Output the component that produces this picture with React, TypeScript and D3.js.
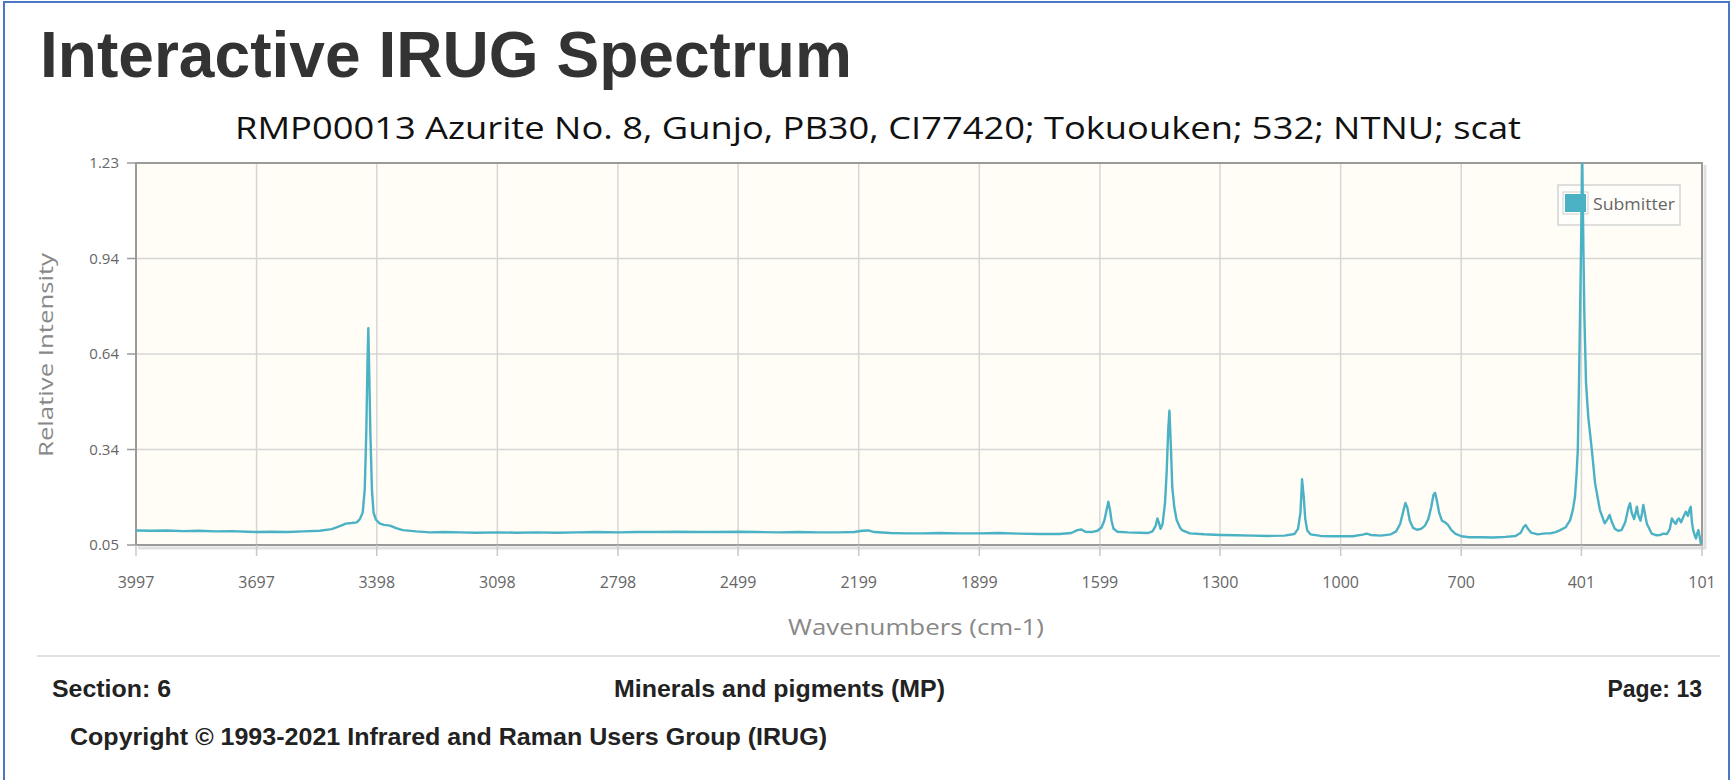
import React from 'react'
import * as d3 from 'd3'

// Raman spectrum, values
const xTicks = [3997, 3697, 3398, 3098, 2798, 2499, 2199, 1899, 1599, 1300, 1000, 700, 401, 101]
const yTicks = [0.05, 0.345, 0.64, 0.935, 1.23]
const yTickLabels = ['0.05', '0.34', '0.64', '0.94', '1.23']

const wavenumbers = [
  3997, 3960, 3920, 3880, 3840, 3800, 3760, 3720, 3697, 3660, 3620, 3580, 3540, 3510, 3490, 3475, 3460, 3448,
  3440, 3433, 3428, 3424, 3421, 3419, 3417, 3414, 3410, 3406, 3400, 3390, 3380, 3365, 3350, 3333, 3300, 3266,
  3230, 3190, 3150, 3098, 3050, 3000, 2950, 2900, 2850, 2798, 2750, 2700, 2650, 2600, 2550, 2499, 2450, 2400,
  2350, 2300, 2250, 2210, 2190, 2175, 2160, 2120, 2080, 2040, 2000, 1950, 1899, 1850, 1800, 1750, 1700, 1670,
  1655, 1645, 1635, 1620, 1605, 1595, 1588, 1582, 1578, 1574, 1570, 1565, 1555, 1530, 1500, 1480, 1468, 1460,
  1456, 1452, 1448, 1443, 1437, 1433, 1429, 1426, 1422, 1419, 1414, 1408, 1400, 1395, 1375, 1340, 1300, 1260,
  1220, 1180, 1140, 1115, 1106, 1100, 1096, 1092, 1088, 1083, 1075, 1050, 1020, 1000, 970, 945, 935, 925,
  900, 875, 862, 852, 845, 839, 834, 828, 820, 810, 800, 790, 782, 775, 769, 765, 761, 755,
  748, 740, 733, 725, 715, 700, 680, 650, 620, 590, 565, 552, 545, 540, 534, 526, 510, 490,
  479, 465, 454, 440, 429, 422, 417, 413, 410, 407, 404.5, 402, 399, 396, 393.6, 389.5, 384, 375,
  367, 355, 343, 336, 331, 325, 318, 310, 301, 292, 284, 280, 276, 270, 266, 263, 259, 254,
  250, 247, 242, 238, 232, 226, 214, 205, 197, 188, 181, 176, 170, 166, 162, 158, 153, 147,
  141, 136, 132, 129, 126, 123, 119, 116, 113, 110, 106, 104, 101,
]
const intensities = [
  0.095, 0.094, 0.095, 0.093, 0.094, 0.092, 0.093, 0.091, 0.090, 0.091, 0.090, 0.092, 0.094, 0.099, 0.108, 0.116, 0.118, 0.120,
  0.130, 0.150, 0.220, 0.400, 0.620, 0.720, 0.600, 0.400, 0.220, 0.150, 0.128, 0.116, 0.112, 0.110, 0.102, 0.096, 0.092, 0.089,
  0.090, 0.089, 0.088, 0.089, 0.088, 0.089, 0.088, 0.089, 0.090, 0.089, 0.090, 0.090, 0.091, 0.090, 0.090, 0.091, 0.090, 0.089,
  0.090, 0.089, 0.089, 0.090, 0.094, 0.095, 0.090, 0.087, 0.086, 0.086, 0.087, 0.086, 0.086, 0.087, 0.085, 0.084, 0.084, 0.087,
  0.096, 0.098, 0.091, 0.090, 0.094, 0.104, 0.125, 0.160, 0.184, 0.160, 0.125, 0.100, 0.091, 0.089, 0.088, 0.087, 0.092, 0.110,
  0.132, 0.118, 0.100, 0.115, 0.179, 0.271, 0.405, 0.465, 0.343, 0.230, 0.168, 0.127, 0.105, 0.096, 0.086, 0.083, 0.081, 0.080,
  0.079, 0.078, 0.079, 0.084, 0.100, 0.150, 0.253, 0.200, 0.130, 0.095, 0.083, 0.078, 0.077, 0.077, 0.077, 0.082, 0.085, 0.081,
  0.079, 0.083, 0.092, 0.115, 0.150, 0.180, 0.165, 0.125, 0.103, 0.097, 0.100, 0.110, 0.130, 0.165, 0.205, 0.211, 0.190, 0.150,
  0.125, 0.120, 0.112, 0.097, 0.085, 0.077, 0.074, 0.074, 0.073, 0.075, 0.078, 0.088, 0.105, 0.112, 0.100, 0.088, 0.083, 0.086,
  0.086, 0.090, 0.096, 0.105, 0.127, 0.160, 0.199, 0.270, 0.343, 0.550, 0.755, 0.961, 1.260, 0.961, 0.755, 0.550, 0.446, 0.343,
  0.241, 0.158, 0.117, 0.130, 0.143, 0.120, 0.100, 0.094, 0.096, 0.120, 0.165, 0.179, 0.150, 0.130, 0.150, 0.168, 0.140, 0.125,
  0.150, 0.174, 0.140, 0.115, 0.100, 0.085, 0.080, 0.081, 0.085, 0.084, 0.100, 0.132, 0.120, 0.115, 0.128, 0.132, 0.120, 0.138,
  0.153, 0.140, 0.160, 0.168, 0.120, 0.096, 0.080, 0.070, 0.085, 0.096, 0.070, 0.055, 0.060,
]

const seriesName = 'Submitter'
const lineColor = '#4bb2c5'

const W = 1732
const H = 780
const plot = { left: 136, top: 163, right: 1702, bottom: 545 }
const tickFont = '"Open Sans", "DejaVu Sans", sans-serif'
const boldFont = '"Liberation Sans", Arial, sans-serif'

export default function App() {
  const x = d3.scaleLinear().domain([3997, 101]).range([plot.left, plot.right])
  const y = d3.scaleLinear().domain([0.05, 1.23]).range([plot.bottom, plot.top])

  const points: [number, number][] = wavenumbers.map((w, i) => [w, intensities[i]])
  const line = d3.line<[number, number]>()
    .x(d => x(d[0]))
    .y(d => y(d[1]))

  const pw = plot.right - plot.left
  const ph = plot.bottom - plot.top

  return (
    <svg width={W} height={H} style={{ position: 'absolute', left: 0, top: 0, display: 'block', background: '#fff' }}>
      <defs>
        <clipPath id="plotClip">
          <rect x={plot.left} y={plot.top} width={pw} height={ph} />
        </clipPath>
      </defs>

      {/* window frame */}
      <rect x={4} y={2} width={1725} height={800} fill="none" stroke="#4a78c4" strokeWidth={2} />

      <text x={40} y={77} fontFamily={boldFont} fontWeight="bold" fontSize={64} fill="#333"
        textLength={812} lengthAdjust="spacingAndGlyphs">Interactive IRUG Spectrum</text>

      <text x={235} y={139} fontFamily={tickFont} fontSize={31} fill="#111"
        textLength={1286} lengthAdjust="spacingAndGlyphs">
        RMP00013 Azurite No. 8, Gunjo, PB30, CI77420; Tokuouken; 532; NTNU; scat
      </text>

      {/* plot background */}
      <rect x={plot.left} y={plot.top} width={pw} height={ph} fill="#fffdf6" />

      {/* grid */}
      {xTicks.map(t => (
        <line key={'gx' + t} x1={x(t)} x2={x(t)} y1={plot.top} y2={plot.bottom} stroke="#d6d6d6" strokeWidth={1.5} />
      ))}
      {yTicks.map(t => (
        <line key={'gy' + t} x1={plot.left} x2={plot.right} y1={y(t)} y2={y(t)} stroke="#d6d6d6" strokeWidth={1.5} />
      ))}

      {/* border + shadow */}
      <path d={`M${plot.left + 2},${plot.bottom + 3}H${plot.right + 3}V${plot.top + 2}`} fill="none"
        stroke="rgba(0,0,0,0.12)" strokeWidth={3} />
      <rect x={plot.left} y={plot.top} width={pw} height={ph} fill="none" stroke="#9a9a9a" strokeWidth={2} />

      {/* y axis */}
      {yTicks.map((t, i) => (
        <g key={'yt' + t}>
          <line x1={plot.left - 9} x2={plot.left} y1={y(t)} y2={y(t)} stroke="#9a9a9a" strokeWidth={1.5} />
          <text x={119} y={y(t)} dy="0.35em" textAnchor="end" fontFamily={tickFont} fontSize={15} fill="#666">
            {yTickLabels[i]}
          </text>
        </g>
      ))}
      <text transform={`translate(53,355) rotate(-90)`} textAnchor="middle" fontFamily={tickFont} fontSize={20}
        fill="#888" textLength={204} lengthAdjust="spacingAndGlyphs">Relative Intensity</text>

      {/* x axis */}
      {xTicks.map(t => (
        <g key={'xt' + t}>
          <line x1={x(t)} x2={x(t)} y1={plot.bottom} y2={plot.bottom + 11} stroke="#c8c8c8" strokeWidth={1.5} />
          <text x={x(t)} y={588} textAnchor="middle" fontFamily={tickFont} fontSize={16} fill="#666">{t}</text>
        </g>
      ))}
      <text x={916} y={635} textAnchor="middle" fontFamily={tickFont} fontSize={21} fill="#888"
        textLength={256} lengthAdjust="spacingAndGlyphs">Wavenumbers (cm-1)</text>

      {/* legend */}
      <rect x={1558} y={185} width={122} height={40} fill="rgba(255,255,255,0.5)" stroke="#d4d4d4" strokeWidth={1.5} />
      <rect x={1563} y={192} width={25} height={22} fill="none" stroke="#d0d0d0" strokeWidth={1} />
      <rect x={1565} y={194} width={21} height={18} fill={lineColor} />
      <text x={1593} y={210} fontFamily={tickFont} fontSize={17} fill="#666" textLength={82}
        lengthAdjust="spacingAndGlyphs">{seriesName}</text>

      {/* spectrum */}
      <path d={line(points) || ''} fill="none" stroke={lineColor} strokeWidth={2.4} strokeLinejoin="round"
        clipPath="url(#plotClip)" />

      {/* footer */}
      <line x1={37} x2={1720} y1={656} y2={656} stroke="#e2e2e2" strokeWidth={2} />
      <text x={52} y={697} fontFamily={boldFont} fontWeight="bold" fontSize={23} fill="#222"
        textLength={119} lengthAdjust="spacingAndGlyphs">Section: 6</text>
      <text x={614} y={697} fontFamily={boldFont} fontWeight="bold" fontSize={23} fill="#222"
        textLength={331} lengthAdjust="spacingAndGlyphs">Minerals and pigments (MP)</text>
      <text x={1702} y={697} textAnchor="end" fontFamily={boldFont} fontWeight="bold" fontSize={23} fill="#222">Page: 13</text>
      <text x={70} y={745} fontFamily={boldFont} fontWeight="bold" fontSize={23} fill="#222"
        textLength={757} lengthAdjust="spacingAndGlyphs">Copyright © 1993-2021 Infrared and Raman Users Group (IRUG)</text>
    </svg>
  )
}
